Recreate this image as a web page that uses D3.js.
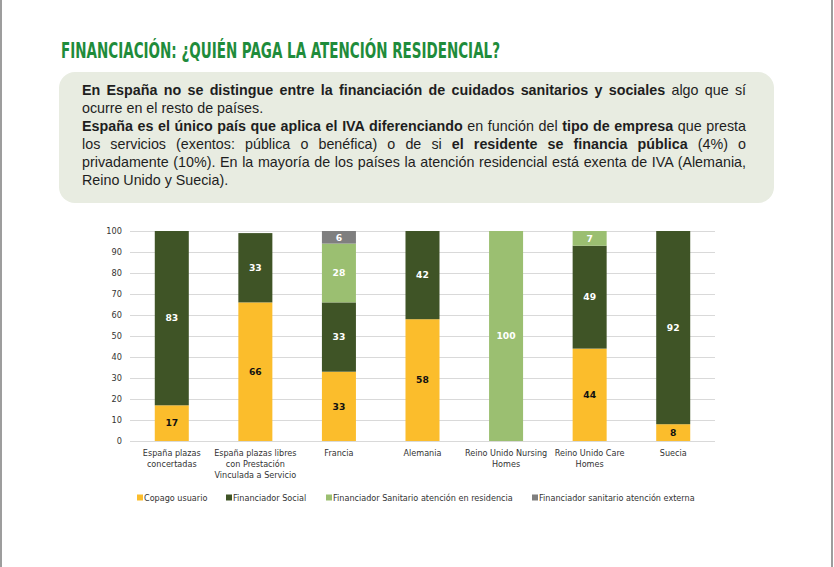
<!DOCTYPE html>
<html>
<head>
<meta charset="utf-8">
<script src="https://cdn.jsdelivr.net/npm/d3@7"></script>
<style>
  html, body { margin: 0; padding: 0; background: #fff; }
  body { width: 834px; height: 567px; position: relative; overflow: hidden; }
  #chart { position: absolute; left: 0; top: 0; }
  #note {
    position: absolute; left: 82px; top: 81px; width: 664px;
    font-family: "Liberation Sans", Arial, sans-serif; font-size: 14.3px; line-height: 18px;
    color: #1e1e1e;
  }
  #note .j { display: block; white-space: nowrap; text-align: justify; text-align-last: justify; }
  #note .l { display: block; white-space: nowrap; text-align: left; }
  #note b { font-weight: bold; }
</style>
</head>
<body>
<svg id="chart" width="834" height="567"></svg>
<div id="note">
  <span class="j"><b>En España no se distingue entre la financiación de cuidados sanitarios y sociales</b> algo que sí</span>
  <span class="l">ocurre en el resto de países.</span>
  <span class="j"><b>España es el único país que aplica el IVA diferenciando</b> en función del <b>tipo de empresa</b> que presta</span>
  <span class="j">los servicios (exentos: pública o benéfica) o de si <b>el residente se financia pública</b> (4%) o</span>
  <span class="j">privadamente (10%). En la mayoría de los países la atención residencial está exenta de IVA (Alemania,</span>
  <span class="l">Reino Unido y Suecia).</span>
</div>
<script>
// ---- data ----
const categories = [
  "España plazas concertadas",
  "España plazas libres con Prestación Vinculada a Servicio",
  "Francia",
  "Alemania",
  "Reino Unido Nursing Homes",
  "Reino Unido Care Homes",
  "Suecia"
];
const categoryLines = [
  ["España plazas", "concertadas"],
  ["España plazas libres", "con Prestación", "Vinculada a Servicio"],
  ["Francia"],
  ["Alemania"],
  ["Reino Unido Nursing", "Homes"],
  ["Reino Unido Care", "Homes"],
  ["Suecia"]
];
const seriesNames = [
  "Copago usuario",
  "Financiador Social",
  "Financiador Sanitario atención en residencia",
  "Financiador sanitario atención externa"
];
const copagoUsuario        = [17, 66, 33, 58,   0, 44,  8];
const financiadorSocial    = [83, 33, 33, 42,   0, 49, 92];
const sanitarioResidencia  = [ 0,  0, 28,  0, 100,  7,  0];
const sanitarioExterna     = [ 0,  0,  6,  0,   0,  0,  0];
const yTicks = [0, 10, 20, 30, 40, 50, 60, 70, 80, 90, 100];
const titleText = "FINANCIACIÓN: ¿QUIÉN PAGA LA ATENCIÓN RESIDENCIAL?";

(function () {
const colors = ["#fbbd2c", "#3f5426", "#9bbf71", "#7f7f7f"];
const labelColors = ["#111", "#fff", "#fff", "#fff"];

// ---- build table ----
const seriesValues = [copagoUsuario, financiadorSocial, sanitarioResidencia, sanitarioExterna];
const table = categories.map((c, i) => {
  const row = { cat: c };
  seriesNames.forEach((s, k) => row[s] = seriesValues[k][i]);
  return row;
});

const svg = d3.select("#chart");

// page side borders
svg.append("rect").attr("x", 0).attr("y", 0).attr("width", 2).attr("height", 567).attr("fill", "#9d9d9d");
svg.append("rect").attr("x", 831).attr("y", 0).attr("width", 2).attr("height", 567).attr("fill", "#9d9d9d");

// title
svg.append("text")
  .attr("x", 61).attr("y", 58)
  .attr("textLength", 439).attr("lengthAdjust", "spacingAndGlyphs")
  .style("font-family", "'Liberation Sans Narrow', 'DejaVu Sans Condensed', sans-serif")
  .style("font-weight", "bold").style("font-size", "22px")
  .attr("fill", "#1f8c3b")
  .text(titleText);

// note box
svg.append("rect")
  .attr("x", 59).attr("y", 72).attr("width", 715).attr("height", 131)
  .attr("rx", 16).attr("ry", 16)
  .attr("fill", "#e8ece1");

// ---- chart ----
const pLeft = 130, pRight = 715, pTop = 231, pBottom = 441;
const x = d3.scaleBand().domain(categories).range([pLeft, pRight])
  .paddingInner(0.593).paddingOuter(0.2965);
const y = d3.scaleLinear().domain([0, 100]).range([pBottom, pTop]);

const g = svg.append("g");

// gridlines
g.selectAll("line.grid").data(yTicks).join("line")
  .attr("class", "grid")
  .attr("x1", pLeft).attr("x2", pRight)
  .attr("y1", d => y(d) + 0.5).attr("y2", d => y(d) + 0.5)
  .attr("stroke", "#d9d9d9").attr("stroke-width", 1);

// y axis labels
const yAxis = d3.axisLeft(y).tickValues(yTicks).tickSize(0).tickPadding(8);
const ya = g.append("g").attr("transform", `translate(${pLeft},0)`).call(yAxis);
ya.select(".domain").remove();
ya.selectAll("text")
  .style("font-family", "'DejaVu Sans', Verdana, sans-serif")
  .style("font-size", "8.2px").attr("fill", "#333");

// stacks
const stack = d3.stack().keys(seriesNames);
const stacked = stack(table);

stacked.forEach((layer, k) => {
  g.append("g").selectAll("rect").data(layer).join("rect")
    .attr("x", d => x(d.data.cat))
    .attr("width", x.bandwidth())
    .attr("y", d => y(d[1]))
    .attr("height", d => y(d[0]) - y(d[1]))
    .attr("fill", colors[k]);
});

stacked.forEach((layer, k) => {
  g.append("g").selectAll("text").data(layer.filter(d => d[1] - d[0] > 0)).join("text")
    .attr("x", d => x(d.data.cat) + x.bandwidth() / 2)
    .attr("y", d => y((d[0] + d[1]) / 2))
    .attr("dy", "0.35em")
    .attr("text-anchor", "middle")
    .style("font-family", "'DejaVu Sans', Verdana, sans-serif")
    .style("font-weight", "bold").style("font-size", "9.2px")
    .attr("fill", labelColors[k])
    .text(d => d[1] - d[0]);
});

// x labels
const xl = g.append("g").selectAll("text").data(categories).join("text")
  .attr("x", d => x(d) + x.bandwidth() / 2)
  .attr("y", 456)
  .attr("text-anchor", "middle")
  .style("font-family", "'DejaVu Sans', Verdana, sans-serif")
  .style("font-size", "8.1px").attr("fill", "#333");
xl.each(function(d, i) {
  d3.select(this).selectAll("tspan").data(categoryLines[i]).join("tspan")
    .attr("x", x(d) + x.bandwidth() / 2)
    .attr("dy", (t, j) => j === 0 ? 0 : 11)
    .text(t => t);
});

// legend
const legendX = [137, 226, 326, 532];
const lg = g.append("g").selectAll("g").data(seriesNames).join("g")
  .attr("transform", (d, i) => `translate(${legendX[i]},498)`);
lg.append("rect").attr("x", 0).attr("y", -3.5).attr("width", 6).attr("height", 6)
  .attr("fill", (d, i) => colors[i]);
lg.append("text").attr("x", 7).attr("y", 0).attr("dy", "0.33em")
  .style("font-family", "'DejaVu Sans', Verdana, sans-serif")
  .style("font-size", "8.1px").attr("fill", "#333")
  .text(d => d);
})();
</script>
</body>
</html>
